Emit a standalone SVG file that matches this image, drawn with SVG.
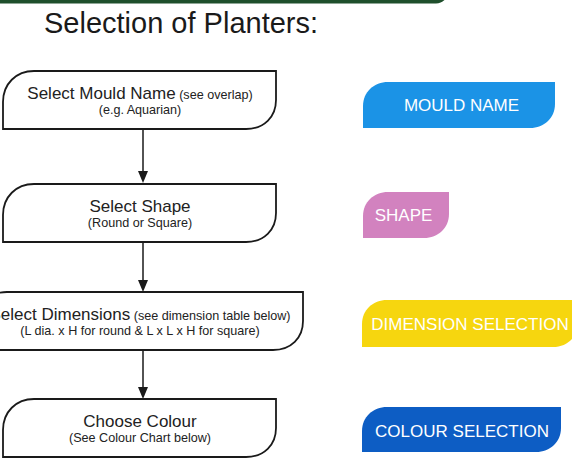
<svg xmlns="http://www.w3.org/2000/svg" width="572" height="462" viewBox="0 0 572 462">
<defs>
<style>
.node{fill:#fff;stroke:#1a1a1a;stroke-width:1.8}
.main{font-family:"Liberation Sans",Arial,sans-serif;font-size:17px;fill:#222}
.sub{font-size:12.6px}
.small{font-family:"Liberation Sans",Arial,sans-serif;font-size:12.6px;fill:#222}
.badge-text{font-family:"Liberation Sans",Arial,sans-serif;font-size:17px;fill:#fff}
.conn{stroke:#1a1a1a;stroke-width:1.5;fill:none}
.head{fill:#1a1a1a}
</style>
</defs>
<rect width="572" height="462" fill="#fff"/>
<rect id="topbar" x="-20" y="-20" width="468" height="23.5" rx="12" fill="#1f4f2c"/>
<text x="44" y="33" font-family="'Liberation Sans',Arial,sans-serif" font-size="29" fill="#1a1a1a">Selection of Planters:</text>

<g id="connectors">
<line class="conn" x1="143" y1="130" x2="143" y2="172"/>
<path class="head" d="M138,171 L148,171 L143,183 Z"/>
<line class="conn" x1="143" y1="243" x2="143" y2="281"/>
<path class="head" d="M138,280 L148,280 L143,292 Z"/>
<line class="conn" x1="143" y1="351" x2="143" y2="388"/>
<path class="head" d="M138,387 L148,387 L143,399 Z"/>
</g>

<g id="node-mould">
<path class="node" d="M3,129 L3,102 C3,84 16,71 34,71 L276,71 L276,100 C276,117 264,129 246,129 Z"/>
<text class="main" x="140" y="99" text-anchor="middle">Select Mould Name<tspan class="sub"> (see overlap)</tspan></text>
<text class="small" x="140" y="113.5" text-anchor="middle">(e.g. Aquarian)</text>
</g>

<g id="node-shape">
<path class="node" d="M3,242 L3,215 C3,197 16,184 34,184 L276,184 L276,213 C276,230 264,242 246,242 Z"/>
<text class="main" x="140" y="212" text-anchor="middle">Select Shape</text>
<text class="small" x="140" y="226.5" text-anchor="middle">(Round or Square)</text>
</g>

<g id="node-dimensions">
<path class="node" d="M-24,350 L-24,323 C-24,305 -11,292 7,292 L303,292 L303,321 C303,338 291,350 273,350 Z"/>
<text class="main" x="140" y="320" text-anchor="middle">Select Dimensions<tspan class="sub"> (see dimension table below)</tspan></text>
<text class="small" x="140" y="334.5" text-anchor="middle">(L dia. x H for round &amp; L x L x H for square)</text>
</g>

<g id="node-colour">
<path class="node" d="M3,457 L3,430 C3,412 16,399 34,399 L276,399 L276,428 C276,445 264,457 246,457 Z"/>
<text class="main" x="140" y="427" text-anchor="middle">Choose Colour</text>
<text class="small" x="140" y="441.5" text-anchor="middle">(See Colour Chart below)</text>
</g>

<g id="badge-mould">
<path d="M363,128 L363,106 C363,92 374,82 388,82 L555,82 L555,104 C555,118 544,128 530,128 Z" fill="#1b93e6"/>
<text class="badge-text" x="461.5" y="111" text-anchor="middle">MOULD NAME</text>
</g>

<g id="badge-shape">
<path d="M363,238 L363,216 C363,202 374,192 388,192 L449,192 L449,214 C449,228 438,238 424,238 Z" fill="#d282bf"/>
<text class="badge-text" x="403.5" y="221" text-anchor="middle">SHAPE</text>
</g>

<g id="badge-dimension">
<path d="M362,347 L362,324 C362,310 373,300 387,300 L578,300 L578,323 C578,337 567,347 553,347 Z" fill="#f6d60f"/>
<text class="badge-text" x="470" y="330" text-anchor="middle">DIMENSION SELECTION</text>
</g>

<g id="badge-colour">
<path d="M362,452 L362,431 C362,417 373,407 387,407 L561,407 L561,428 C561,442 550,452 536,452 Z" fill="#0d5dc4"/>
<text class="badge-text" x="462" y="437" text-anchor="middle">COLOUR SELECTION</text>
</g>
</svg>
